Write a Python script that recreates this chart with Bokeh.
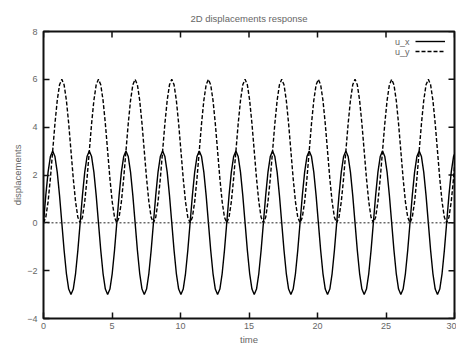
from bokeh.plotting import figure
from bokeh.models import Range1d, Legend, LegendItem, Label, Span, FixedTicker
from bokeh.core.properties import value
from bokeh.embed import file_html
from bokeh.resources import INLINE
import numpy as np

title_text = "2D displacements response"
x_label = "time"
y_label = "displacements"
series_names = ["u_x", "u_y"]
x_ticks = [0, 5, 10, 15, 20, 25, 30]
y_ticks = [-4, -2, 0, 2, 4, 6, 8]
x_min, x_max = 0, 30
y_min, y_max = -4, 8

# sample spacing (one period ~2.675 => 16 samples per period)
DT = 0.1672

u_x = [
    0, 1.15, 2.12, 2.77, 3.0, 2.77, 2.12, 1.15, 0, -1.15, -2.12, -2.77, -3.0, -2.77, -2.12, -1.15,
    0, 1.15, 2.12, 2.77, 3.0, 2.77, 2.12, 1.15, 0, -1.15, -2.12, -2.77, -3.0, -2.77, -2.12, -1.15,
    0, 1.15, 2.12, 2.77, 3.0, 2.77, 2.12, 1.15, 0, -1.15, -2.12, -2.77, -3.0, -2.77, -2.12, -1.15,
    0, 1.15, 2.12, 2.77, 3.0, 2.77, 2.12, 1.15, 0, -1.15, -2.12, -2.77, -3.0, -2.77, -2.12, -1.15,
    0, 1.15, 2.12, 2.77, 3.0, 2.77, 2.12, 1.15, 0, -1.15, -2.12, -2.77, -3.0, -2.77, -2.12, -1.15,
    0, 1.15, 2.12, 2.77, 3.0, 2.77, 2.12, 1.15, 0, -1.15, -2.12, -2.77, -3.0, -2.77, -2.12, -1.15,
    0, 1.15, 2.12, 2.77, 3.0, 2.77, 2.12, 1.15, 0, -1.15, -2.12, -2.77, -3.0, -2.77, -2.12, -1.15,
    0, 1.15, 2.12, 2.77, 3.0, 2.77, 2.12, 1.15, 0, -1.15, -2.12, -2.77, -3.0, -2.77, -2.12, -1.15,
    0, 1.15, 2.12, 2.77, 3.0, 2.77, 2.12, 1.15, 0, -1.15, -2.12, -2.77, -3.0, -2.77, -2.12, -1.15,
    0, 1.15, 2.12, 2.77, 3.0, 2.77, 2.12, 1.15, 0, -1.15, -2.12, -2.77, -3.0, -2.77, -2.12, -1.15,
    0, 1.15, 2.12, 2.77, 3.0, 2.77, 2.12, 1.15, 0, -1.15, -2.12, -2.77, -3.0, -2.77, -2.12, -1.15,
    0, 1.15, 2.12, 2.77, 3.0, 2.77, 2.12, 1.15,
]

u_y = [
    0, 0.23, 0.88, 1.85, 3.0, 4.15, 5.12, 5.77, 6.0, 5.77, 5.12, 4.15, 3.0, 1.85, 0.88, 0.23,
    0, 0.23, 0.88, 1.85, 3.0, 4.15, 5.12, 5.77, 6.0, 5.77, 5.12, 4.15, 3.0, 1.85, 0.88, 0.23,
    0, 0.23, 0.88, 1.85, 3.0, 4.15, 5.12, 5.77, 6.0, 5.77, 5.12, 4.15, 3.0, 1.85, 0.88, 0.23,
    0, 0.23, 0.88, 1.85, 3.0, 4.15, 5.12, 5.77, 6.0, 5.77, 5.12, 4.15, 3.0, 1.85, 0.88, 0.23,
    0, 0.23, 0.88, 1.85, 3.0, 4.15, 5.12, 5.77, 6.0, 5.77, 5.12, 4.15, 3.0, 1.85, 0.88, 0.23,
    0, 0.23, 0.88, 1.85, 3.0, 4.15, 5.12, 5.77, 6.0, 5.77, 5.12, 4.15, 3.0, 1.85, 0.88, 0.23,
    0, 0.23, 0.88, 1.85, 3.0, 4.15, 5.12, 5.77, 6.0, 5.77, 5.12, 4.15, 3.0, 1.85, 0.88, 0.23,
    0, 0.23, 0.88, 1.85, 3.0, 4.15, 5.12, 5.77, 6.0, 5.77, 5.12, 4.15, 3.0, 1.85, 0.88, 0.23,
    0, 0.23, 0.88, 1.85, 3.0, 4.15, 5.12, 5.77, 6.0, 5.77, 5.12, 4.15, 3.0, 1.85, 0.88, 0.23,
    0, 0.23, 0.88, 1.85, 3.0, 4.15, 5.12, 5.77, 6.0, 5.77, 5.12, 4.15, 3.0, 1.85, 0.88, 0.23,
    0, 0.23, 0.88, 1.85, 3.0, 4.15, 5.12, 5.77, 6.0, 5.77, 5.12, 4.15, 3.0, 1.85, 0.88, 0.23,
    0, 0.23, 0.88, 1.85, 3.0, 4.15, 5.12, 5.77,
]

time = np.arange(len(u_x)) * DT

FONT = "Liberation Sans"
TXT = "#666666"
FS_TICK = "9px"
FS_TITLE = "9.5px"

p = figure(width=456, height=347, output_backend="svg", toolbar_location=None,
           x_range=Range1d(x_min, x_max), y_range=Range1d(y_min, y_max),
           min_border_left=43, min_border_right=2, min_border_top=31, min_border_bottom=28)
p.background_fill_color = "white"
p.border_fill_color = "white"
p.grid.visible = False
p.outline_line_color = "#111111"
p.outline_line_width = 2

p.title.text = title_text
p.title.align = "center"
p.title.text_font = FONT
p.title.text_font_size = FS_TITLE
p.title.text_font_style = "normal"
p.title.text_color = TXT
p.title.standoff = 15

def style_axis(ax):
    ax.axis_line_color = None
    ax.major_tick_in = 6
    ax.major_tick_out = 0
    ax.major_tick_line_color = "#111111"
    ax.major_tick_line_width = 1.5
    ax.minor_tick_line_color = None
    ax.major_label_text_font = FONT
    ax.major_label_text_font_size = FS_TICK
    ax.major_label_text_color = TXT
    ax.axis_label_text_font = FONT
    ax.axis_label_text_font_size = FS_TITLE
    ax.axis_label_text_font_style = "normal"
    ax.axis_label_text_color = TXT

xa = p.xaxis[0]
xa.ticker = FixedTicker(ticks=x_ticks)
xa.axis_label = x_label
style_axis(xa)
xa.major_label_standoff = 4
xa.axis_label_standoff = 2

ya = p.yaxis[0]
ya.ticker = FixedTicker(ticks=y_ticks)
ya.axis_label = y_label
style_axis(ya)
ya.major_label_standoff = 6
ya.axis_label_standoff = 1

# mirrored inward ticks on the top and right borders (clipped to the frame)
p.scatter(x=x_ticks, y=[y_max] * len(x_ticks), marker="dash", angle=np.pi / 2,
          size=12, line_color="#111111", line_width=1.5)
p.scatter(x=[x_max] * len(y_ticks), y=y_ticks, marker="dash",
          size=12, line_color="#111111", line_width=1.5)

zero = Span(location=0, dimension="width", line_color="#222222", line_width=1, line_dash="2 2")
p.add_layout(zero)

r1 = p.line(time, u_x, line_color="black", line_width=1.4)
r2 = p.line(time, u_y, line_color="black", line_width=1.4, line_dash="4 2")

legend = Legend(items=[LegendItem(label=value(" "), renderers=[r1]),
                       LegendItem(label=value(" "), renderers=[r2])],
                location=(372, 262), glyph_width=30, glyph_height=10, label_height=10,
                label_width=1, label_standoff=0, spacing=0, padding=0, margin=0,
                border_line_color=None, background_fill_alpha=0,
                label_text_font_size="4px")
p.add_layout(legend)

for i, name in enumerate(series_names):
    p.add_layout(Label(x=366, y=277 - 10 * i, x_units="screen", y_units="screen",
                       text=name, text_align="right", text_baseline="middle",
                       text_font=FONT, text_font_size=FS_TICK, text_color=TXT))

open("out.html", "w").write(file_html(p, INLINE))
